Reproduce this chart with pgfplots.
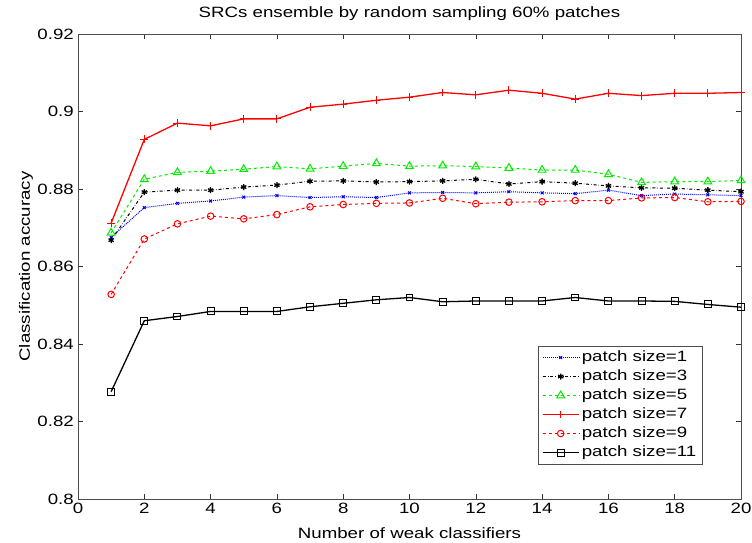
\documentclass[border=0pt]{standalone}
\usepackage{pgfplots}
\pgfplotsset{compat=1.18}
\usepackage{fontspec}
\setmainfont[FakeStretch=1.25]{Liberation Sans}
\definecolor{mblue}{RGB}{0,0,255}
\definecolor{mgreen}{RGB}{0,235,0}
\definecolor{mred}{RGB}{255,0,0}
\begin{document}
\begin{tikzpicture}
\begin{axis}[
  name=ax,
  scale only axis,
  width=663bp, height=465bp,
  xmin=0, xmax=20, ymin=0.8, ymax=0.92,
  xtick={0,2,...,20},
  ytick={0.8,0.82,0.84,0.86,0.88,0.9,0.92},
  yticklabels={0.8,0.82,0.84,0.86,0.88,0.9,0.92},
  tick align=inside,
  major tick length=5bp,
  tick style={black!80, line width=0.6pt},
  axis line style={black!70, line width=0.7pt},
  /pgf/number format/assume math mode=true,
  tick label style={font=\fontsize{15}{18}\selectfont},
  xticklabel style={inner sep=4bp},
  yticklabel style={inner sep=4bp},
  xlabel={Number of weak classifiers},
  ylabel={Classification accuracy},
  label style={font=\fontsize{15}{18}\selectfont},
  xlabel style={at={(axis description cs:0.5,0)}, anchor=base, yshift=-39bp},
  ylabel style={at={(axis description cs:-0.0724,0.5)}, anchor=base, rotate=0},
  title={SRCs ensemble by random sampling 60\% patches},
  title style={font=\fontsize{15}{18}\selectfont, at={(axis description cs:0.5,1)}, anchor=base, yshift=10.7bp},
  legend style={at={(rel axis cs:0.942,0.0746)}, anchor=south east,
    draw=black!70, line width=0.6pt, font=\fontsize{15}{18}\selectfont,
    inner xsep=3.5bp, inner ysep=2bp, row sep=0pt,
    nodes={inner sep=2.5bp, text height=10.5bp, text depth=3.5bp}},
  legend cell align=left,
  legend image code/.code={\draw[mark repeat=2,mark phase=2,#1] plot coordinates {(0bp,0bp)(18bp,0bp)(36bp,0bp)};},
]
\addplot[mblue, densely dotted, line width=1pt, mark=x, mark size=2pt, mark options={solid, line width=1pt}] coordinates {
(1,0.8675)(2,0.8752)(3,0.8763)(4,0.8769)(5,0.8779)(6,0.8783)(7,0.8778)(8,0.8780)(9,0.8778)(10,0.8790)
(11,0.8791)(12,0.8790)(13,0.8793)(14,0.8790)(15,0.8788)(16,0.8797)(17,0.8783)(18,0.8787)(19,0.8785)(20,0.8783)};
\addlegendentry{patch size=1}
\addplot[black, dash dot, line width=1pt, mark=asterisk, mark size=3pt, mark options={solid, line width=1.3pt}] coordinates {
(1,0.8668)(2,0.8792)(3,0.8797)(4,0.8797)(5,0.8805)(6,0.8810)(7,0.8820)(8,0.8821)(9,0.8818)(10,0.8819)
(11,0.8821)(12,0.8825)(13,0.8813)(14,0.8819)(15,0.8815)(16,0.8808)(17,0.8803)(18,0.8802)(19,0.8797)(20,0.8793)};
\addlegendentry{patch size=3}
\addplot[mgreen, dashed, line width=1pt, mark=triangle, mark size=4.5pt, mark options={solid, line width=1pt}] coordinates {
(1,0.8687)(2,0.8825)(3,0.8843)(4,0.8846)(5,0.8851)(6,0.8858)(7,0.8852)(8,0.8859)(9,0.8866)(10,0.8859)
(11,0.8860)(12,0.8858)(13,0.8854)(14,0.8849)(15,0.8849)(16,0.8838)(17,0.8817)(18,0.8819)(19,0.8819)(20,0.8822)};
\addlegendentry{patch size=5}
\addplot[mred, solid, line width=1.3pt, mark=+, mark size=4pt, mark options={solid, line width=1pt}] coordinates {
(1,0.8712)(2,0.8928)(3,0.8970)(4,0.8963)(5,0.8981)(6,0.8981)(7,0.9011)(8,0.9019)(9,0.9029)(10,0.9037)
(11,0.9049)(12,0.9043)(13,0.9055)(14,0.9047)(15,0.9032)(16,0.9047)(17,0.9041)(18,0.9047)(19,0.9047)(20,0.9049)};
\addlegendentry{patch size=7}
\addplot[mred, dashed, line width=1pt, mark=o, mark size=3.3pt, mark options={solid, line width=1pt}] coordinates {
(1,0.8528)(2,0.8671)(3,0.8710)(4,0.8730)(5,0.8723)(6,0.8734)(7,0.8754)(8,0.8760)(9,0.8763)(10,0.8764)
(11,0.8776)(12,0.8762)(13,0.8766)(14,0.8767)(15,0.8770)(16,0.8770)(17,0.8777)(18,0.8778)(19,0.8767)(20,0.8768)};
\addlegendentry{patch size=9}
\addplot[black, solid, line width=1.3pt, mark=square, mark size=3.5pt, mark options={solid, line width=1pt}] coordinates {
(1,0.8277)(2,0.8460)(3,0.8471)(4,0.8484)(5,0.8484)(6,0.8484)(7,0.8496)(8,0.8505)(9,0.8514)(10,0.8520)
(11,0.8509)(12,0.8511)(13,0.8511)(14,0.8511)(15,0.8520)(16,0.8511)(17,0.8511)(18,0.8510)(19,0.8502)(20,0.8495)};
\addlegendentry{patch size=11}
\end{axis}
\pgfresetboundingbox
\path (ax.south west) ++(-78bp,-44bp) rectangle ([xshift=11bp,yshift=34bp]ax.north east);
\end{tikzpicture}
\end{document}
